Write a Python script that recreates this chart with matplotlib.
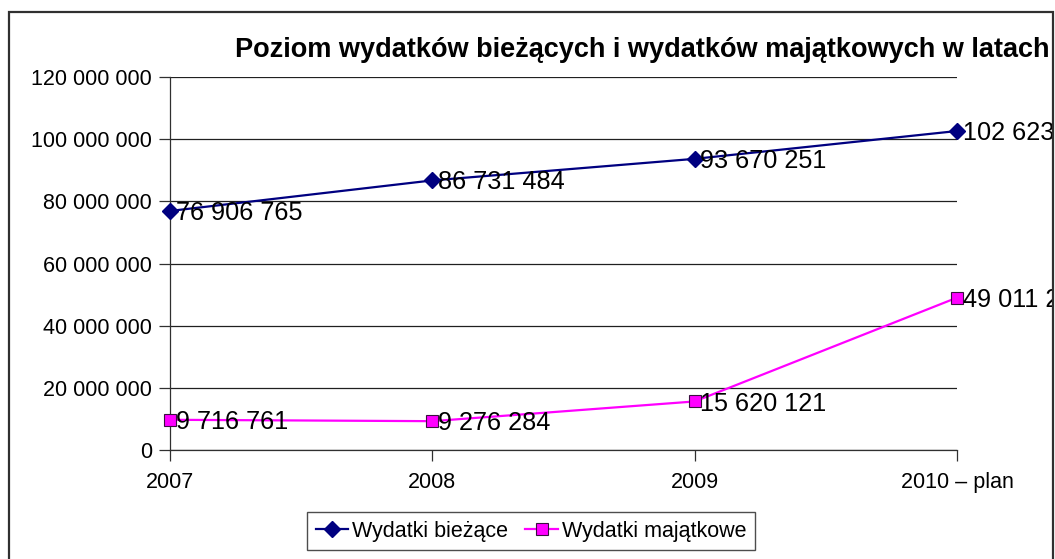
import numpy as np
import matplotlib.pyplot as plt
from matplotlib.patches import Rectangle
from matplotlib.ticker import FuncFormatter, MultipleLocator

plt.rcParams['font.family'] = ['Liberation Sans', 'DejaVu Sans']

years = ["2007", "2008", "2009", "2010 – plan"]
biezace = [76906765, 86731484, 93670251, 102623000]
majatkowe = [9716761, 9276284, 15620121, 49011200]


def fmt(v):
    return "{:,.0f}".format(v).replace(",", " ")


fig = plt.figure(figsize=(10.55, 5.59), dpi=100)
ax = fig.add_axes([170 / 1055, 1 - 450 / 559, (957 - 170) / 1055, (450 - 77) / 559])

x = np.arange(len(years))
ax.plot(x, biezace, color="#000080", lw=1.6, marker="D", ms=8,
        mfc="#000080", mec="#000080", label="Wydatki bieżące", zorder=3, clip_on=False)
ax.plot(x, majatkowe, color="#FF00FF", lw=1.6, marker="s", ms=9,
        mfc="#FF00FF", mec="#3a1040", mew=0.8, label="Wydatki majątkowe", zorder=3,
        clip_on=False)

# outer chart frame
frame = Rectangle((9 / 1055, -0.1), (1053 - 9) / 1055, 1.1 - 12 / 559,
                  transform=fig.transFigure, fill=False, lw=1.6, ec="#303030")
fig.patches.append(frame)

labels = []
for xi, v in zip(x, biezace):
    labels.append(ax.annotate(fmt(v), (xi, v), xytext=(4, -1.5), textcoords="offset points",
                              ha="left", va="center", fontsize=18.2, annotation_clip=False))
for xi, v in zip(x, majatkowe):
    labels.append(ax.annotate(fmt(v), (xi, v), xytext=(4, -1.5), textcoords="offset points",
                              ha="left", va="center", fontsize=18.2, annotation_clip=False))
for t in labels:
    t.set_clip_path(frame)

ax.set_xlim(0, 3)
ax.set_ylim(0, 120000000)
ax.yaxis.set_major_locator(MultipleLocator(20000000))
ax.yaxis.set_major_formatter(FuncFormatter(lambda v, p: fmt(v)))
ax.set_xticks(x)
ax.set_xticklabels(years)
ax.tick_params(axis="both", labelsize=15.5, length=8, width=0.9, color="#303030")
ax.tick_params(axis="x", pad=8)
ax.tick_params(axis="y", pad=5)

ax.grid(axis="y", color="#202020", lw=0.9)
ax.set_axisbelow(True)
for s in ["top", "right"]:
    ax.spines[s].set_visible(False)
for s in ["left", "bottom"]:
    ax.spines[s].set_color("#303030")
    ax.spines[s].set_linewidth(0.9)

fig.text(235 / 1055, 1 - 50 / 559, "Poziom wydatków bieżących i wydatków majątkowych w latach",
         fontsize=19.5, fontweight="bold", ha="left", va="center")

leg = fig.legend(loc="center", bbox_to_anchor=(531 / 1055, 1 - 531 / 559), ncol=2,
                 fontsize=15.5, frameon=True, fancybox=False, edgecolor="#202020",
                 handlelength=1.5, handletextpad=0.2, columnspacing=0.8,
                 borderpad=0.4)
leg.get_frame().set_linewidth(1.0)

fig.savefig("out.png", dpi=100)
